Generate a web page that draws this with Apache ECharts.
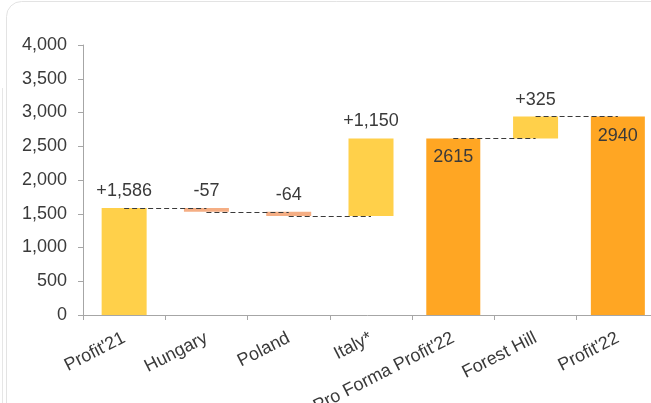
<!DOCTYPE html>
<html>
<head>
<meta charset="utf-8">
<script src="https://cdn.jsdelivr.net/npm/echarts@6/dist/echarts.min.js"></script>
<style>
html,body{margin:0;padding:0;background:#fff;}
#chart{width:651px;height:403px;}
</style>
</head>
<body>
<div id="chart"></div>
<script>
var categories = ["Profit'21", "Hungary", "Poland", "Italy*", "Pro Forma Profit'22", "Forest Hill", "Profit'22"];
var deltas = [1586, -57, -64, 1150, null, 325, null];
var totals = [null, null, null, null, 2615, null, 2940];
var labelTexts = ["+1,586", "-57", "-64", "+1,150", "2615", "+325", "2940"];
var yTicks = [0, 500, 1000, 1500, 2000, 2500, 3000, 3500, 4000];
var connectors = [[0, 1], [1, 2], [2, 3], [4, 5], [5, 6]];

var FONT = "'Liberation Sans', Arial, Helvetica, sans-serif";
var TXT = '#3a3a3a';

// derive waterfall pieces
var running = 0, ends = [];
var baseData = [], posData = [], negData = [];
for (var i = 0; i < categories.length; i++) {
  if (totals[i] != null) {
    running = totals[i];
    baseData.push(null); posData.push(null); negData.push(null);
  } else {
    var d = deltas[i];
    if (d >= 0) { baseData.push(running); posData.push(d); negData.push(null); }
    else { baseData.push(running + d); posData.push(null); negData.push(-d); }
    running += d;
  }
  ends.push(running);
}

var mlData = connectors.map(function (c) {
  return [{ coord: [categories[c[0]], ends[c[0]]] }, { coord: [categories[c[1]], ends[c[0]]] }];
});

var lbl = function (pos, dist) {
  return {
    show: true, position: pos, distance: dist, color: TXT, fontSize: 18, fontFamily: FONT,
    formatter: function (p) { return labelTexts[p.dataIndex]; }
  };
};

var chart = echarts.init(document.getElementById('chart'), null, { renderer: 'canvas' });
chart.setOption({
  animation: false,
  backgroundColor: '#fff',
  graphic: [
    { type: 'rect', shape: { x: 6.5, y: 1.5, width: 700, height: 500, r: 15 }, style: { fill: 'none', stroke: '#e3e3e3', lineWidth: 1 }, silent: true, z: -1 },
    { type: 'line', shape: { x1: 2.5, y1: 88, x2: 2.5, y2: 403 }, style: { stroke: '#e6e6e6', lineWidth: 1 }, silent: true, z: -1 }
  ],
  grid: { left: 83, right: -8, top: 45, bottom: 88, containLabel: false, outerBoundsMode: 'none' },
  xAxis: [{
    type: 'category', data: categories,
    axisLine: { lineStyle: { color: '#a6a6a6', width: 1 } },
    axisTick: { show: true, length: 5, lineStyle: { color: '#a6a6a6' } },
    axisLabel: { rotate: 27, margin: 22, color: TXT, fontSize: 18, fontFamily: FONT, interval: 0 }
  }, {
    type: 'category', data: categories, show: false, position: 'bottom'
  }],
  yAxis: {
    type: 'value', min: yTicks[0], max: yTicks[yTicks.length - 1], interval: 500,
    splitLine: { show: false },
    axisLine: { show: true, lineStyle: { color: '#a6a6a6', width: 1 } },
    axisTick: { show: true, length: 5, lineStyle: { color: '#a6a6a6' } },
    axisLabel: {
      margin: 16, color: TXT, fontSize: 18, fontFamily: FONT,
      formatter: function (v) { return v.toLocaleString('en-US'); }
    }
  },
  series: [
    {
      type: 'bar', stack: 'wf', xAxisIndex: 0, data: baseData, barWidth: 45,
      itemStyle: { color: 'transparent' }, silent: true
    },
    {
      type: 'bar', stack: 'wf', xAxisIndex: 0, data: posData, barWidth: 45,
      itemStyle: { color: '#FFD04A' }, label: lbl('top', 8)
    },
    {
      type: 'bar', stack: 'wf', xAxisIndex: 0, data: negData, barWidth: 45,
      itemStyle: { color: '#F5AE84' }, label: lbl('top', 8)
    },
    {
      type: 'bar', xAxisIndex: 1, data: totals, barWidth: 54,
      itemStyle: { color: '#FFA623' }, label: lbl('insideTop', 10)
    },
    {
      type: 'line', xAxisIndex: 0, data: [], symbol: 'none',
      markLine: {
        silent: true, symbol: ['none', 'none'], label: { show: false },
        lineStyle: { color: '#3a3a3a', type: [5, 3], width: 1 },
        data: mlData, z: 10
      }
    }
  ]
});
</script>
</body>
</html>
